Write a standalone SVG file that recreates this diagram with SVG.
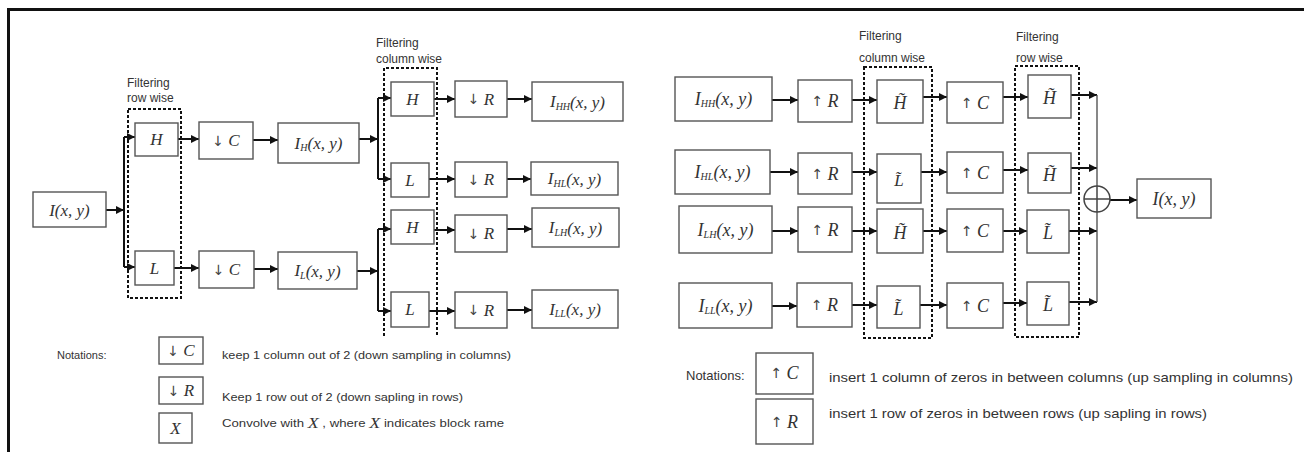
<svg xmlns="http://www.w3.org/2000/svg" width="1304" height="452" viewBox="0 0 1304 452">
<defs>
<marker id="ah" viewBox="0 0 10 10" refX="10" refY="5" markerWidth="9" markerHeight="8" orient="auto" markerUnits="userSpaceOnUse"><path d="M0,0 L10,5 L0,10 z" fill="#111"/></marker>
<style>
.box{fill:#fff;stroke:#555;stroke-width:1.4}
.t{font-family:"Liberation Serif",serif;font-style:italic;font-size:17px;fill:#333;text-anchor:middle;dominant-baseline:central}
.b{font-size:18px}
.s{font-size:10px}
.ar{font-family:"DejaVu Sans",sans-serif;font-style:normal;font-size:14px;fill:#444}
.c{fill:none;stroke:#111;stroke-width:2}
.a{fill:none;stroke:#111;stroke-width:2;marker-end:url(#ah)}
.d{fill:none;stroke:#111;stroke-width:2;stroke-dasharray:3,2}
.lab{font-family:"Liberation Sans",sans-serif;font-size:12px;fill:#333}
.leg{font-family:"Liberation Sans",sans-serif;font-size:11px;fill:#333;dominant-baseline:central}
.legr{font-family:"Liberation Sans",sans-serif;font-size:13px;fill:#333;dominant-baseline:central}
.xi{font-family:"Liberation Serif",serif;font-style:italic;font-size:15px}
</style>
</defs>
<rect width="1304" height="452" fill="#fff"/>
<path d="M8,9.5 H1304 M8.5,8 V452" stroke="#111" stroke-width="3" fill="none"/>

<g id="filter-groups">
<rect class="d" x="128" y="109" width="53" height="189"/>
<text class="lab" x="127" y="87">Filtering</text><text class="lab" x="127" y="102">row wise</text>
<path class="d" d="M384,336 V68 H437 V336"/>
<text class="lab" x="376" y="47">Filtering</text><text class="lab" x="376" y="63">column wise</text>
<rect class="d" x="864" y="67" width="68" height="271"/>
<text class="lab" x="859" y="40">Filtering</text><text class="lab" x="859" y="62">column wise</text>
<rect class="d" x="1015" y="66" width="64" height="271"/>
<text class="lab" x="1016" y="41">Filtering</text><text class="lab" x="1016" y="62">row wise</text>
</g>

<g id="connectors">
<line class="a" x1="106" y1="210" x2="124" y2="210"/>
<path class="c" d="M124,137 V267"/>
<line class="a" x1="124" y1="137" x2="135" y2="137"/>
<line class="a" x1="124" y1="267" x2="135" y2="267"/>
<line class="a" x1="178" y1="139" x2="199" y2="139"/>
<line class="a" x1="174" y1="268" x2="199" y2="268"/>
<line class="a" x1="253" y1="140" x2="278" y2="140"/>
<line class="a" x1="254" y1="269" x2="278" y2="269"/>
<line class="a" x1="359" y1="139" x2="378" y2="139"/>
<line class="a" x1="357" y1="271" x2="378" y2="271"/>
<path class="c" d="M378,98 V179 M378,229 V311"/>
<line class="a" x1="378" y1="98" x2="391" y2="98"/>
<line class="a" x1="378" y1="179" x2="391" y2="179"/>
<line class="a" x1="378" y1="229" x2="391" y2="229"/>
<line class="a" x1="378" y1="311" x2="391" y2="311"/>
<line class="a" x1="434" y1="99" x2="455" y2="99"/>
<line class="a" x1="429" y1="179" x2="455" y2="179"/>
<line class="a" x1="434" y1="230" x2="455" y2="230"/>
<line class="a" x1="429" y1="311" x2="455" y2="311"/>
<line class="a" x1="507" y1="99" x2="532" y2="99"/>
<line class="a" x1="507" y1="179" x2="531" y2="179"/>
<line class="a" x1="507" y1="229" x2="532" y2="229"/>
<line class="a" x1="507" y1="310" x2="532" y2="310"/>

<line class="a" x1="772" y1="100" x2="798" y2="100"/>
<line class="a" x1="770" y1="172" x2="798" y2="172"/>
<line class="a" x1="772" y1="231" x2="798" y2="231"/>
<line class="a" x1="772" y1="306" x2="797" y2="306"/>
<line class="a" x1="852" y1="100" x2="877" y2="100"/>
<line class="a" x1="852" y1="172" x2="877" y2="172"/>
<line class="a" x1="852" y1="231" x2="877" y2="231"/>
<line class="a" x1="852" y1="305" x2="877" y2="305"/>
<line class="a" x1="923" y1="97" x2="947" y2="97"/>
<line class="a" x1="921" y1="172" x2="947" y2="172"/>
<line class="a" x1="923" y1="231" x2="947" y2="231"/>
<line class="a" x1="920" y1="305" x2="947" y2="305"/>
<line class="a" x1="1003" y1="97" x2="1028" y2="97"/>
<line class="a" x1="1003" y1="170" x2="1028" y2="170"/>
<line class="a" x1="1003" y1="231" x2="1027" y2="231"/>
<line class="a" x1="1003" y1="303" x2="1027" y2="303"/>
<line class="a" x1="1071" y1="95" x2="1097" y2="95"/>
<line class="a" x1="1071" y1="168" x2="1097" y2="168"/>
<line class="a" x1="1069" y1="231" x2="1097" y2="231"/>
<line class="a" x1="1069" y1="302" x2="1097" y2="302"/>
<path d="M1097,95 V302" stroke="#555" stroke-width="1.4" fill="none"/>
<line class="a" x1="1110" y1="200" x2="1137" y2="200"/>
</g>

<g id="sum">
<circle cx="1097" cy="199" r="13" fill="#fff" stroke="#444" stroke-width="1.5"/>
<path d="M1084,199 H1110 M1097,186 V212" stroke="#444" stroke-width="1.5"/>
</g>

<g id="n-input"><rect class="box" x="33" y="192" width="73" height="35"/><text class="t" x="69.5" y="210">I(x, y)</text></g>
<g id="n-H1"><rect class="box" x="135" y="123" width="43" height="33"/><text class="t" x="156.5" y="139.5">H</text></g>
<g id="n-L1"><rect class="box" x="135" y="251" width="39" height="34"/><text class="t" x="154.5" y="268">L</text></g>
<g id="n-dC1"><rect class="box" x="199" y="122" width="54" height="37"/><text class="t" x="226" y="140.5"><tspan class="ar">↓</tspan> C</text></g>
<g id="n-dC2"><rect class="box" x="199" y="251" width="55" height="37"/><text class="t" x="226.5" y="269.5"><tspan class="ar">↓</tspan> C</text></g>
<g id="n-IH"><rect class="box" x="278" y="123" width="81" height="40"/><text class="t" x="318.5" y="143">I<tspan class="s" dy="4">H</tspan><tspan dy="-4">(x, y)</tspan></text></g>
<g id="n-IL"><rect class="box" x="278" y="252" width="79" height="37"/><text class="t" x="317.5" y="270.5">I<tspan class="s" dy="4">L</tspan><tspan dy="-4">(x, y)</tspan></text></g>

<g id="n-H2"><rect class="box" x="391" y="82" width="43" height="34"/><text class="t" x="412.5" y="99">H</text></g>
<g id="n-L2"><rect class="box" x="391" y="163" width="38" height="34"/><text class="t" x="410" y="180">L</text></g>
<g id="n-H3"><rect class="box" x="391" y="210" width="43" height="34"/><text class="t" x="412.5" y="227">H</text></g>
<g id="n-L3"><rect class="box" x="391" y="292" width="38" height="35"/><text class="t" x="410" y="309.5">L</text></g>
<g id="n-dR1"><rect class="box" x="455" y="81" width="52" height="36"/><text class="t" x="481" y="99"><tspan class="ar">↓</tspan> R</text></g>
<g id="n-dR2"><rect class="box" x="455" y="162" width="52" height="35"/><text class="t" x="481" y="179.5"><tspan class="ar">↓</tspan> R</text></g>
<g id="n-dR3"><rect class="box" x="455" y="215" width="52" height="37"/><text class="t" x="481" y="233.5"><tspan class="ar">↓</tspan> R</text></g>
<g id="n-dR4"><rect class="box" x="455" y="292" width="52" height="36"/><text class="t" x="481" y="310"><tspan class="ar">↓</tspan> R</text></g>
<g id="n-IHH"><rect class="box" x="532" y="82" width="91" height="39"/><text class="t" x="577.5" y="101.5">I<tspan class="s" dy="4">HH</tspan><tspan dy="-4">(x, y)</tspan></text></g>
<g id="n-IHL"><rect class="box" x="531" y="162" width="87" height="33"/><text class="t" x="574.5" y="178.5">I<tspan class="s" dy="4">HL</tspan><tspan dy="-4">(x, y)</tspan></text></g>
<g id="n-ILH"><rect class="box" x="532" y="208" width="87" height="39"/><text class="t" x="575.5" y="227.5">I<tspan class="s" dy="4">LH</tspan><tspan dy="-4">(x, y)</tspan></text></g>
<g id="n-ILL"><rect class="box" x="532" y="290" width="86" height="38"/><text class="t" x="575" y="309">I<tspan class="s" dy="4">LL</tspan><tspan dy="-4">(x, y)</tspan></text></g>

<g id="legend-left">
<text class="leg" x="57" y="355">Notations:</text>
<rect class="box" x="159" y="337" width="44" height="27"/><text class="t" x="181" y="350.5"><tspan class="ar">↓</tspan> C</text>
<rect class="box" x="159" y="377" width="44" height="27"/><text class="t" x="181" y="390.5"><tspan class="ar">↓</tspan> R</text>
<rect class="box" x="159" y="413" width="33" height="30"/><text class="t" x="175.5" y="428">X</text>
<text class="leg" x="222" y="355" textLength="289" lengthAdjust="spacingAndGlyphs">keep 1 column out of 2 (down sampling in columns)</text>
<text class="leg" x="222" y="397" textLength="241" lengthAdjust="spacingAndGlyphs">Keep 1 row out of 2 (down sapling in rows)</text>
<text class="leg" x="222" y="423" textLength="282" lengthAdjust="spacingAndGlyphs">Convolve with <tspan class="xi">X</tspan> , where <tspan class="xi">X</tspan> indicates block rame</text>
</g>

<g id="n-rIHH"><rect class="box" x="675" y="77" width="97" height="44"/><text class="t b" x="723.5" y="99">I<tspan class="s" dy="4">HH</tspan><tspan dy="-4">(x, y)</tspan></text></g>
<g id="n-rIHL"><rect class="box" x="675" y="150" width="95" height="44"/><text class="t b" x="722.5" y="172">I<tspan class="s" dy="4">HL</tspan><tspan dy="-4">(x, y)</tspan></text></g>
<g id="n-rILH"><rect class="box" x="679" y="206" width="93" height="47"/><text class="t b" x="725.5" y="229.5">I<tspan class="s" dy="4">LH</tspan><tspan dy="-4">(x, y)</tspan></text></g>
<g id="n-rILL"><rect class="box" x="679" y="283" width="93" height="45"/><text class="t b" x="725.5" y="305.5">I<tspan class="s" dy="4">LL</tspan><tspan dy="-4">(x, y)</tspan></text></g>
<g id="n-uR1"><rect class="box" x="798" y="80" width="54" height="42"/><text class="t b" x="825" y="101"><tspan class="ar">↑</tspan> R</text></g>
<g id="n-uR2"><rect class="box" x="798" y="153" width="54" height="41"/><text class="t b" x="825" y="173.5"><tspan class="ar">↑</tspan> R</text></g>
<g id="n-uR3"><rect class="box" x="798" y="207" width="54" height="45"/><text class="t b" x="825" y="229.5"><tspan class="ar">↑</tspan> R</text></g>
<g id="n-uR4"><rect class="box" x="797" y="283" width="55" height="44"/><text class="t b" x="824.5" y="305"><tspan class="ar">↑</tspan> R</text></g>
<g id="n-cH1"><rect class="box" x="877" y="80" width="46" height="43"/><text class="t b" x="900" y="103">H&#x303;</text></g>
<g id="n-cL2"><rect class="box" x="877" y="154" width="44" height="49"/><text class="t" x="899" y="180" font-size="21">L&#x303;</text></g>
<g id="n-cH3"><rect class="box" x="877" y="209" width="46" height="44"/><text class="t b" x="900" y="233">H&#x303;</text></g>
<g id="n-cL4"><rect class="box" x="877" y="286" width="43" height="42"/><text class="t b" x="898.5" y="309">L&#x303;</text></g>
<g id="n-uC1"><rect class="box" x="947" y="82" width="56" height="41"/><text class="t b" x="975" y="102.5"><tspan class="ar">↑</tspan> C</text></g>
<g id="n-uC2"><rect class="box" x="947" y="152" width="56" height="41"/><text class="t b" x="975" y="172.5"><tspan class="ar">↑</tspan> C</text></g>
<g id="n-uC3"><rect class="box" x="947" y="209" width="56" height="43"/><text class="t b" x="975" y="230.5"><tspan class="ar">↑</tspan> C</text></g>
<g id="n-uC4"><rect class="box" x="947" y="283" width="56" height="45"/><text class="t b" x="975" y="305.5"><tspan class="ar">↑</tspan> C</text></g>
<g id="n-rH1"><rect class="box" x="1028" y="75" width="43" height="43"/><text class="t b" x="1049.5" y="98">H&#x303;</text></g>
<g id="n-rH2"><rect class="box" x="1028" y="153" width="43" height="40"/><text class="t b" x="1049.5" y="175">H&#x303;</text></g>
<g id="n-rL3"><rect class="box" x="1027" y="210" width="42" height="43"/><text class="t b" x="1048" y="233">L&#x303;</text></g>
<g id="n-rL4"><rect class="box" x="1027" y="282" width="42" height="43"/><text class="t b" x="1048" y="305">L&#x303;</text></g>
<g id="n-output"><rect class="box" x="1137" y="179" width="74" height="39"/><text class="t b" x="1174" y="199">I(x, y)</text></g>

<g id="legend-right">
<text class="legr" x="686" y="375">Notations:</text>
<rect class="box" x="756" y="353" width="57" height="41"/><text class="t b" x="784.5" y="373"><tspan class="ar">↑</tspan> C</text>
<rect class="box" x="756" y="399" width="57" height="45"/><text class="t b" x="784.5" y="421.5"><tspan class="ar">↑</tspan> R</text>
<text class="legr" x="829" y="377" textLength="464" lengthAdjust="spacingAndGlyphs">insert 1 column of zeros in between columns (up sampling in columns)</text>
<text class="legr" x="829" y="413" textLength="378" lengthAdjust="spacingAndGlyphs">insert 1 row of zeros in between rows (up sapling in rows)</text>
</g>
</svg>
